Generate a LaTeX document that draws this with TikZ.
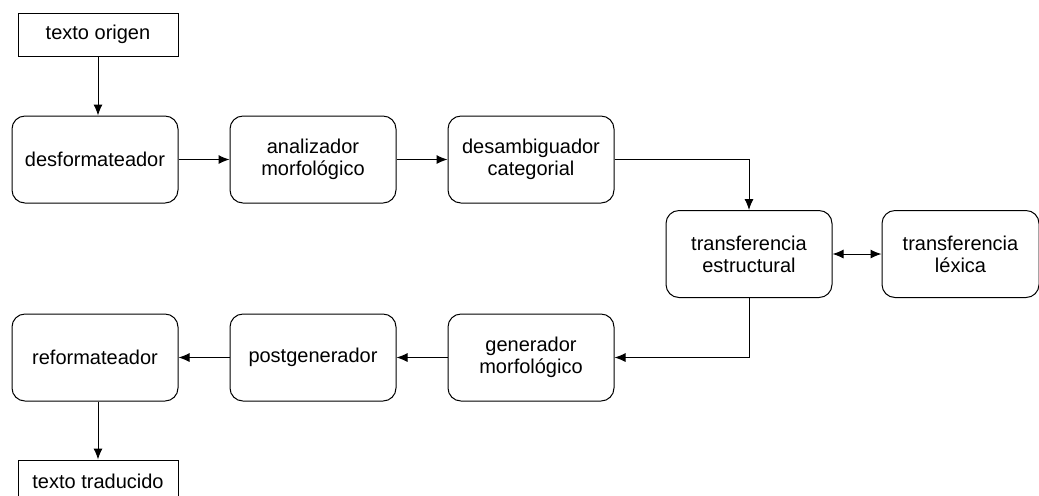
\documentclass[tikz,border=0pt]{standalone}
\usepackage{fontspec}
\setmainfont{Liberation Sans}
\usetikzlibrary{positioning,arrows.meta}

\tikzset{
  stepbox/.style={draw, rounded corners=6.5pt, line width=0.5pt, align=center,
    minimum width=83pt, minimum height=43.5pt, inner sep=0pt,
    font=\fontsize{10}{11}\selectfont},
  textbox/.style={draw, line width=0.5pt, align=center,
    minimum width=80pt, minimum height=21.5pt, inner sep=0pt,
    font=\fontsize{10}{11}\selectfont},
  flow/.style={-{Latex[length=5.5pt,width=4.5pt]}, line width=0.5pt},
  bothflow/.style={{Latex[length=5.5pt,width=4.5pt]}-{Latex[length=5.5pt,width=4.5pt]}, line width=0.5pt},
}

\begin{document}
\begin{tikzpicture}[x=0.5pt, y=-0.5pt, node distance=25.5pt]
    \useasboundingbox (0,0) rectangle (1039,495);

    % top row
    \node[stepbox] (desf) at (95,159.5) {desformateador};
    \node[stepbox, right=of desf] (anal) {analizador\\morfológico};
    \node[stepbox, right=of anal] (desamb) {desambiguador\\categorial};
    \node[textbox, above=29.5pt of desf, xshift=1.5pt] (orig) {texto origen};

    % transfer
    \node[stepbox, right=of desamb, yshift=-47.25pt] (estr) {transferencia\\estructural};
    \node[stepbox, right=24.5pt of estr, minimum width=78.5pt] (lex) {transferencia\\léxica};

    % bottom row
    \node[stepbox, below=55pt of desamb] (gen) {generador\\morfológico};
    \node[stepbox, left=of gen] (post) {postgenerador};
    \node[stepbox, left=of post] (refor) {reformateador};
    \node[textbox, below=29pt of refor, xshift=1.5pt] (trad) {texto traducido};

    \draw[flow] (orig.south) -- (orig.south |- desf.north);
    \draw[flow] (desf) -- (anal);
    \draw[flow] (anal) -- (desamb);
    \draw[flow] (desamb.east) -| (estr.north);
    \draw[bothflow] (estr) -- (lex);
    \draw[flow] (estr.south) |- (gen.east);
    \draw[flow] (gen) -- (post);
    \draw[flow] (post) -- (refor);
    \draw[flow] (refor.south -| trad) -- (trad.north);
\end{tikzpicture}
\end{document}
